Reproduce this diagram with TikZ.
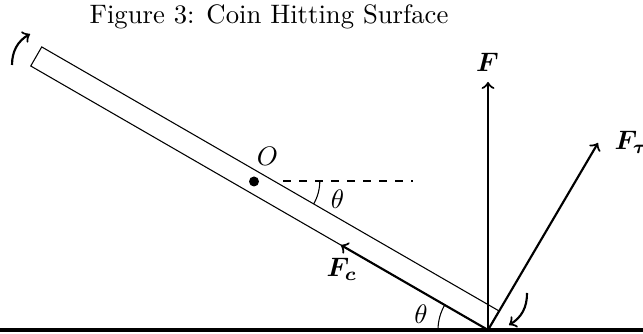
\documentclass[tikz,border=0pt]{standalone}
\usepackage{amsmath}
\usepackage{bm}
\usetikzlibrary{calc}
\begin{document}
\begin{tikzpicture}[x=0.3745pt,y=0.3745pt,
  force/.style={->,thick},
  rotarrow/.style={->,thick},
  lbl/.style={inner sep=0pt}]
\useasboundingbox (0,0) rectangle (643,334);
% title
\node[anchor=base] (title) at (269,310) {Figure 3: Coin Hitting Surface};
% ground
\coordinate (gl) at (0,4);
\coordinate (gr) at (643,4);
\draw[ultra thick] (gl) -- (gr);
% rod
\coordinate (P) at (488,4);
\coordinate (A) at ($(P)+(150:528)$);
\coordinate (B) at ($(P)+(60:22)$);
\coordinate (C) at ($(A)+(60:22)$);
\draw (P) -- (A) -- (C) -- (B) -- cycle;
% centre of mass
\coordinate (O) at (254,152.5);
\fill (O) circle (5);
\node[lbl] (Olbl) at (267.5,178) {$O$};
\coordinate (d1) at (283,153);
\coordinate (d2) at (413,153);
\draw[dashed] (d1) -- (d2);
\coordinate (arcT) at (319.8,153);
\draw (arcT) arc[start angle=0,end angle=-30,radius=46];
\node[lbl] (th1) at (337.5,135) {$\theta$};
% bottom angle
\coordinate (arcB) at ($(P)+(180:50)$);
\draw (arcB) arc[start angle=180,end angle=150,radius=50];
\node[lbl] (th2) at (421,19.5) {$\theta$};
% forces
\coordinate (FcT) at ($(P)+(150:170)$);
\draw[force] (P) -- (FcT);
\node[lbl,anchor=base west] (Fclbl) at (326,57) {$\bm{F_c}$};
\coordinate (FT) at (488,252);
\draw[force] (P) -- (FT);
\node[lbl,anchor=base] (Flbl) at (487.5,262) {$\bm{F}$};
\coordinate (FtT) at (598,191);
\draw[force] (P) -- (FtT);
\node[lbl,anchor=base west] (Ftlbl) at (614,184) {$\bm{F_\tau}$};
% rotation arrows
\coordinate (r1a) at (12,269);
\coordinate (r1b) at (30,300);
\draw[rotarrow] (r1a) to[bend left=30] (r1b);
\coordinate (r2a) at (527,41);
\coordinate (r2b) at (509,9);
\draw[rotarrow] (r2a) to[bend left=30] (r2b);
\end{tikzpicture}
\end{document}
